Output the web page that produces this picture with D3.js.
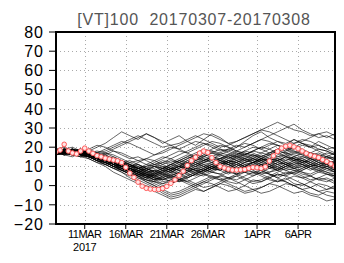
<!DOCTYPE html>
<html>
<head>
<meta charset="utf-8">
<script src="https://cdn.jsdelivr.net/npm/d3@7"></script>
<style>
  html, body { margin: 0; padding: 0; background: #fff; }
  svg { display: block; font-family: "Liberation Sans", Arial, sans-serif; }
</style>
</head>
<body>
<div id="chart"></div>
<script>
// valores
const titulo = "[VT]100  20170307-20170308";
const inicio = Date.UTC(2017, 2, 7, 12);
const fin = Date.UTC(2017, 3, 10, 12);

const yTicks = [-20, -10, 0, 10, 20, 30, 40, 50, 60, 70, 80];
const xTickFechas = ["2017-03-11", "2017-03-16", "2017-03-21", "2017-03-26", "2017-04-01", "2017-04-06"];
const xTickTextos = ["11MAR", "16MAR", "21MAR", "26MAR", "1APR", "6APR"];
const anio = "2017";

// serie VT cada 12 h
const vt = [17.6, 18.5, 21.5, 18, 17, 16.5, 18, 19.5, 18, 16.8, 15.6, 15, 14.3, 13.8, 13.3, 12.9, 12, 9.5, 6.5, 4.3,
  1.8, -0.3, -1.4, -1.8, -2, -2, -1.5, -0.4, 1.2, 3, 5.2, 7.5, 10.5, 13, 14.8, 16.9, 18, 17.2, 14.5, 12,
  10, 9.2, 8.6, 8.1, 8.1, 8.2, 8.4, 9, 9.5, 9.3, 9, 9.8, 12.8, 15.5, 17.8, 19.5, 20.5, 21, 20.2, 19.2,
  18, 16.8, 15.9, 15.3, 14.6, 13.5, 12.5, 11.3, 10];

// miembros del ensamble, un valor diario
const miembros = [
  [18,19,17,18,16,14,12,10,8,6,4,3,2,4,6,5,7,9,8,10,12,11,9,10,12,14,13,11,12,10,9,11,13,12,10],
  [17,18,19,17,18,20,22,25,28,26,24,27,25,22,24,26,23,21,24,27,25,22,20,23,26,28,25,23,21,24,22,20,23,21,19],
  [19,17,16,15,14,12,10,7,5,3,1,0,-2,-1,1,3,2,4,6,5,3,4,6,8,7,5,3,2,4,1,0,2,4,3,1],
  [16,17,18,16,15,13,11,12,10,8,7,9,11,10,8,10,13,15,14,12,10,12,15,17,16,14,12,13,15,17,16,14,12,10,8],
  [18,16,17,19,17,15,14,12,9,7,5,2,0,-3,-5,-4,-2,0,2,1,-1,-3,-2,0,3,2,4,6,5,3,1,-1,-3,-5,-6],
  [17,18,16,17,18,16,17,15,13,11,9,10,12,14,16,18,17,15,17,19,21,20,18,16,18,20,22,21,19,17,18,16,14,15,13],
  [18,19,20,18,17,15,16,14,12,10,11,9,7,6,8,10,9,11,13,12,14,16,18,17,15,13,14,16,18,20,19,17,15,13,12],
  [17,16,15,17,16,14,13,11,8,6,3,1,-1,-4,-6,-5,-3,-1,1,3,5,4,2,0,-2,-1,1,0,-2,-4,-3,-5,-6,-8,-7],
  [19,20,18,17,19,17,18,20,22,24,26,24,22,20,21,19,17,19,21,23,22,20,18,20,22,24,26,28,30,32,29,27,25,26,24],
  [16,17,18,19,17,16,14,13,11,9,7,6,5,7,9,11,13,12,10,8,9,11,13,15,14,12,10,9,11,13,15,14,12,11,9],
  [18,17,16,18,17,15,13,14,12,10,8,6,4,3,5,7,9,8,6,4,5,7,6,4,2,3,5,7,9,8,6,5,7,9,8],
  [17,19,18,16,15,14,12,10,9,7,5,4,6,8,10,12,14,16,15,17,19,18,16,14,13,15,17,19,21,20,18,17,19,18,16],
  [18,17,19,18,16,14,15,13,11,12,10,8,9,11,13,12,10,8,7,9,11,13,12,10,8,6,7,9,8,6,4,5,3,2,4],
  [17,18,17,15,16,17,19,21,23,22,20,18,16,17,19,21,23,25,27,26,24,22,23,25,27,29,31,33,31,29,28,26,27,25,27],
  [19,18,17,16,14,12,11,9,7,4,2,-1,-3,-5,-7,-6,-4,-2,-3,-1,1,0,-2,-4,-3,-1,1,3,2,0,-2,-1,1,0,-2],
  [16,18,19,17,18,16,14,15,13,11,9,7,5,4,2,3,5,7,9,11,10,8,6,8,10,9,7,8,10,12,11,9,7,6,4],
  [18,19,18,17,15,13,12,10,8,9,7,5,3,5,7,9,11,10,12,14,13,15,17,16,14,12,11,13,15,14,12,10,11,9,7],
  [17,18,16,17,19,21,20,18,16,14,15,13,11,12,14,16,18,20,22,21,19,17,15,16,18,20,19,17,15,13,14,12,10,11,9],
  [18,17,18,16,15,13,11,9,7,5,6,4,2,0,1,3,5,7,6,8,10,12,11,9,7,8,10,12,14,13,11,13,15,17,16],
  [19,18,19,17,16,14,13,11,10,8,6,7,5,3,4,6,8,10,9,7,6,4,5,3,1,2,4,6,5,7,9,11,10,8,7],
  [17,16,18,19,17,15,13,12,10,8,7,5,6,8,10,12,11,13,15,17,16,18,20,22,21,19,17,18,20,22,24,23,21,19,20],
  [18,19,17,16,17,15,14,12,10,11,9,7,8,6,4,2,3,1,-1,0,2,4,3,5,7,6,4,2,3,5,4,2,0,-2,-1],
  [16,17,18,17,15,14,16,18,17,15,13,11,13,15,14,12,14,16,18,17,15,13,12,14,16,15,13,14,16,18,17,15,13,15,14],
  [18,17,16,18,17,16,14,12,11,9,10,8,6,7,9,8,6,5,7,9,8,10,9,7,6,8,10,12,11,9,8,10,12,11,13],
  [17,18,19,18,16,15,17,19,21,23,25,27,25,23,21,22,24,26,24,22,20,21,23,25,27,29,28,26,24,22,23,25,27,28,26],
  [18,16,17,18,16,14,12,10,8,6,5,3,1,-1,1,3,1,-1,-3,-1,1,3,5,7,9,8,6,4,6,8,7,5,3,4,2],
  [19,18,17,19,18,16,15,13,12,10,9,11,10,8,7,9,11,13,12,14,16,15,13,11,12,14,16,15,17,19,21,20,18,16,14],
  [17,18,16,15,16,14,13,11,9,8,6,4,3,5,4,6,8,7,9,11,13,12,14,16,18,17,19,21,20,18,16,17,15,13,12],
  [18,19,18,16,15,16,14,12,13,11,9,8,10,9,11,13,15,14,16,18,17,19,21,20,22,24,23,21,19,20,18,16,17,15,13],
  [17,16,17,18,16,15,13,11,10,8,6,5,7,9,8,6,4,6,8,10,9,7,9,11,10,8,6,5,7,6,8,10,9,7,5],
  [18,17,18,17,16,15,14,13,11,9,7,5,4,2,3,5,7,9,11,10,8,10,12,14,13,11,9,10,12,11,13,15,14,12,10],
  [19,18,17,16,17,18,17,16,14,12,13,14,16,18,20,19,21,23,22,20,18,19,17,15,16,14,12,13,11,10,12,14,13,11,9],
  [16,17,16,18,17,15,13,11,9,7,8,6,4,3,5,4,2,0,2,4,3,1,-1,-3,-2,-4,-3,-1,1,0,-2,-4,-5,-3,-4],
  [18,19,18,17,16,14,12,13,11,9,7,5,3,1,2,4,6,8,10,9,11,13,15,14,12,14,16,18,17,15,13,11,9,10,8],
  [17,18,19,18,17,16,15,13,11,10,12,14,13,11,9,10,12,14,16,15,13,11,10,12,14,13,11,9,11,13,12,14,16,15,17],
  [18,17,18,16,15,13,12,10,8,7,5,6,8,7,5,3,4,6,5,7,9,8,6,7,9,11,10,8,6,7,5,3,4,6,5],
  [17,18,17,16,18,17,16,14,12,13,11,9,10,12,11,13,15,17,19,18,16,14,16,18,17,15,17,19,18,20,22,21,19,18,16],
  [18,18,17,17,15,13,11,9,8,6,4,2,0,-2,-4,-3,-1,1,3,5,4,2,1,3,5,7,6,4,2,0,1,-1,-3,-2,0],
  [19,18,16,17,18,17,15,14,12,10,11,9,7,9,11,10,8,6,8,10,12,11,9,8,10,12,14,13,11,9,10,12,11,13,11],
  [17,17,18,19,17,16,14,12,10,8,9,7,6,8,7,9,11,13,15,14,12,14,16,18,20,19,21,23,22,24,22,20,21,19,17],
  [17,18,17,16,15,13,12,10,9,7,6,4,5,7,9,8,10,12,11,9,11,13,12,10,9,11,10,8,10,12,11,9,8,10,9],
  [18,17,17,16,16,14,12,11,9,8,6,5,3,4,6,8,7,9,8,10,9,7,8,10,12,13,11,10,8,9,7,6,8,6,5],
  [18,18,19,17,16,15,13,12,10,9,8,9,7,9,11,13,12,14,13,15,14,12,11,13,12,10,12,14,13,15,14,16,15,13,12],
  [17,17,16,17,16,14,13,12,10,8,7,8,6,5,7,6,8,10,12,11,13,12,10,12,11,13,15,14,12,14,13,11,10,12,10],
  [19,18,18,17,15,14,13,11,9,7,5,3,2,1,3,2,4,6,8,7,6,8,7,9,11,10,12,11,9,11,10,8,10,9,7],
  [18,18,17,18,17,15,14,13,12,11,9,10,11,13,12,14,16,15,13,15,17,16,14,13,15,17,16,18,17,16,15,17,16,14,15],
  [17,18,18,17,17,15,13,12,11,10,8,7,8,10,9,11,10,12,14,13,11,9,11,10,12,11,9,11,13,15,17,16,14,12,11],
  [18,17,18,18,16,15,14,12,10,9,8,6,5,6,8,10,9,11,10,12,14,15,13,12,14,16,14,13,15,14,12,13,11,10,12],
  [17,18,17,17,16,15,13,11,10,9,7,6,4,6,5,7,9,8,7,9,8,6,8,7,5,7,9,8,10,9,11,10,8,7,6],
  [18,19,17,17,16,15,14,13,11,10,9,8,10,9,8,10,12,11,13,15,14,16,15,13,12,14,13,15,16,14,13,12,14,13,11]
];

const width = 344, height = 263;
const margin = { top: 32, right: 9, bottom: 39, left: 56 };
const H12 = 12 * 3600 * 1000;

const svg = d3.select("#chart").append("svg").attr("width", width).attr("height", height);

const x = d3.scaleUtc().domain([inicio, fin]).range([margin.left, width - margin.right]);
const y = d3.scaleLinear().domain([-20, 80]).range([height - margin.bottom, margin.top]);

svg.append("defs").append("clipPath").attr("id", "recorte")
  .append("rect").attr("x", margin.left).attr("y", margin.top)
  .attr("width", width - margin.left - margin.right).attr("height", height - margin.top - margin.bottom);

// rejilla punteada
const grid = svg.append("g").attr("stroke", "#aaa").attr("stroke-width", 1).attr("stroke-dasharray", "1,3");
grid.selectAll("line.h").data(yTicks.slice(1, -1)).join("line").attr("class", "h")
  .attr("x1", margin.left).attr("x2", width - margin.right)
  .attr("y1", (d) => Math.round(y(d)) + 0.5).attr("y2", (d) => Math.round(y(d)) + 0.5);
grid.selectAll("line.v").data(xTickFechas).join("line").attr("class", "v")
  .attr("x1", (d) => Math.round(x(new Date(d))) + 0.5).attr("x2", (d) => Math.round(x(new Date(d))) + 0.5)
  .attr("y1", margin.top).attr("y2", height - margin.bottom);

// miembros
const lineaDiaria = d3.line().x((d, i) => x(inicio + i * 2 * H12)).y((d) => y(d));
svg.append("g").attr("clip-path", "url(#recorte)")
  .selectAll("path").data(miembros).join("path")
  .attr("d", lineaDiaria).attr("fill", "none").attr("stroke", "#000")
  .attr("stroke-width", 0.8).attr("stroke-opacity", 0.75);

// VT
const lineaVt = d3.line().x((d, i) => x(inicio + i * H12)).y((d) => y(d));
const gVt = svg.append("g").attr("clip-path", "url(#recorte)");
gVt.append("path").datum(vt).attr("d", lineaVt).attr("fill", "none").attr("stroke", "#ff6060").attr("stroke-width", 1);
gVt.selectAll("circle").data(vt).join("circle")
  .attr("cx", (d, i) => x(inicio + i * H12)).attr("cy", (d) => y(d)).attr("r", 2.3)
  .attr("fill", "#ffe4e4").attr("stroke", "#ff5a5a").attr("stroke-width", 1);

// marco
svg.append("rect").attr("x", margin.left).attr("y", margin.top)
  .attr("width", width - margin.left - margin.right).attr("height", height - margin.top - margin.bottom)
  .attr("fill", "none").attr("stroke", "#000").attr("stroke-width", 2);

// eje y
const ejeY = svg.append("g");
ejeY.selectAll("line").data(yTicks).join("line")
  .attr("x1", margin.left - 7).attr("x2", margin.left)
  .attr("y1", (d) => y(d)).attr("y2", (d) => y(d)).attr("stroke", "#000");
ejeY.selectAll("text").data(yTicks).join("text")
  .attr("x", margin.left - 12).attr("y", (d) => y(d)).attr("dy", "0.36em")
  .attr("text-anchor", "end").attr("font-size", 16).attr("letter-spacing", 1)
  .text((d) => (d < 0 ? "\u2212" + Math.abs(d) : d));

// eje x
const ejeX = svg.append("g");
ejeX.selectAll("line").data(xTickFechas).join("line")
  .attr("x1", (d) => x(new Date(d))).attr("x2", (d) => x(new Date(d)))
  .attr("y1", height - margin.bottom).attr("y2", height - margin.bottom + 5).attr("stroke", "#000");
ejeX.selectAll("text").data(xTickFechas).join("text")
  .attr("x", (d) => x(new Date(d))).attr("y", height - margin.bottom + 14)
  .attr("text-anchor", "middle").attr("font-size", 11).attr("letter-spacing", -0.5)
  .text((d, i) => xTickTextos[i]);
ejeX.append("text").attr("x", x(new Date(xTickFechas[0]))).attr("y", height - margin.bottom + 27)
  .attr("text-anchor", "middle").attr("font-size", 11).attr("letter-spacing", -0.3).text(anio);

// titulo
svg.append("text").attr("x", 194).attr("y", 25).attr("text-anchor", "middle")
  .style("white-space", "pre")
  .attr("font-size", 16).attr("letter-spacing", 0.8).attr("fill", "#555").text(titulo);
</script>
</body>
</html>
